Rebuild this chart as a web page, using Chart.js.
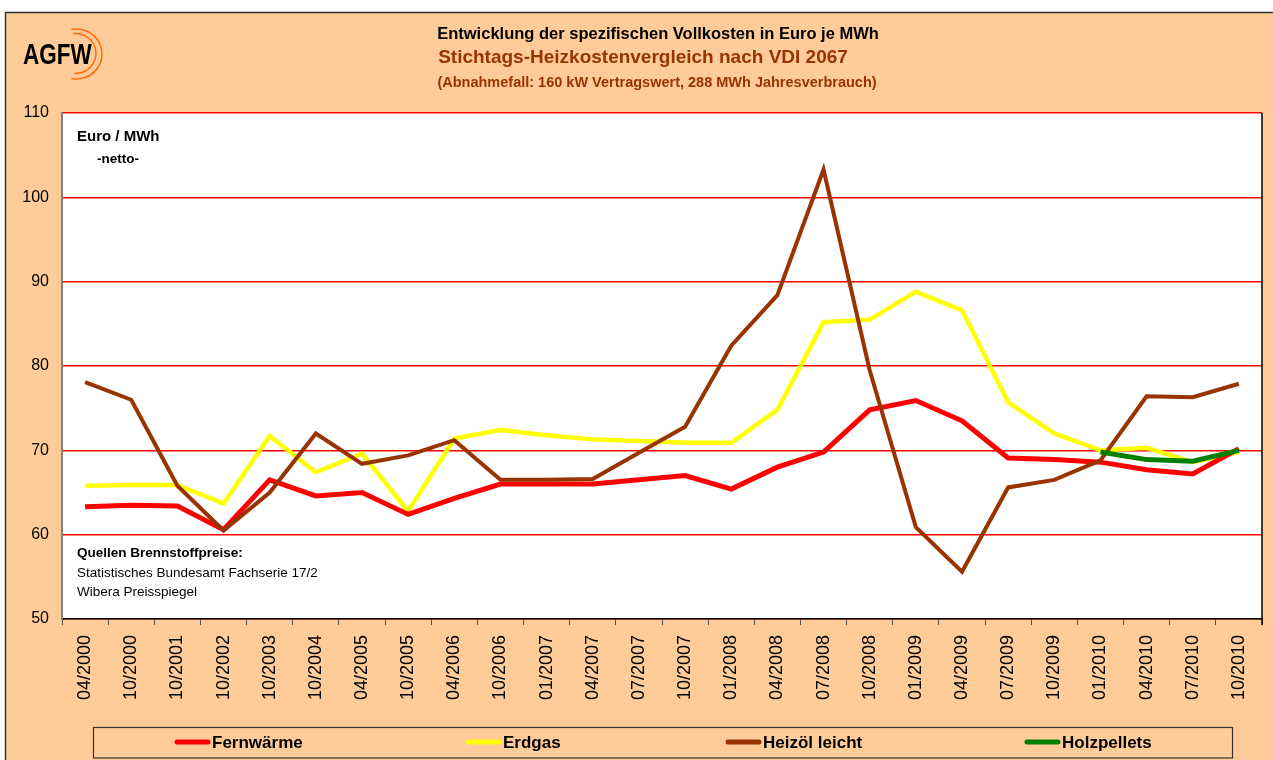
<!DOCTYPE html>
<html>
<head>
<meta charset="utf-8">
<script src="https://cdn.jsdelivr.net/npm/chart.js@4"></script>
<style>
  html, body { margin: 0; padding: 0; background: #fff; }
  #wrap { width: 1273px; height: 760px; }
</style>
</head>
<body>
<div id="wrap"><canvas id="chart" width="1273" height="760"></canvas></div>
<script>
const categories = [
	"04/2000", "10/2000", "10/2001", "10/2002", "10/2003", "10/2004", "04/2005",
	"10/2005", "04/2006", "10/2006", "01/2007", "04/2007", "07/2007", "10/2007",
	"01/2008", "04/2008", "07/2008", "10/2008", "01/2009", "04/2009", "07/2009",
	"10/2009", "01/2010", "04/2010", "07/2010", "10/2010",
]

const fernwaerme = [
	63.3, 63.5, 63.4, 60.6, 66.5, 64.6, 65.0, 62.4, 64.3, 66.0, 66.0, 66.0, 66.5,
	67.0, 65.4, 68.0, 69.8, 74.8, 75.9, 73.5, 69.1, 68.9, 68.6, 67.7, 67.2, 70.2,
]
const erdgas = [
	65.8, 65.9, 65.9, 63.7, 71.7, 67.4, 69.6, 62.8, 71.4, 72.4, 71.8, 71.3, 71.1,
	70.9, 70.9, 74.8, 85.2, 85.5, 88.8, 86.6, 75.7, 72.0, 70.0, 70.3, 68.6, 69.8,
]
const heizoel = [
	78.1, 76.0, 65.8, 60.5, 65.0, 72.0, 68.4, 69.4, 71.2, 66.5, 66.5, 66.6, 69.7,
	72.8, 82.4, 88.4, 103.3, 79.5, 60.9, 55.6, 65.6, 66.5, 68.8, 76.4, 76.3, 77.9,
]
const holzpellets = [
	null, null, null, null, null, null, null, null, null, null, null, null, null,
	null, null, null, null, null, null, null, null, null, 69.8, 68.9, 68.7, 70.0,
]

const seriesLabels = ["Fernwärme", "Erdgas", "Heizöl leicht", "Holzpellets"]
const yTicks = [50, 60, 70, 80, 90, 100, 110]

const FONT = "'Liberation Sans', Arial, sans-serif"
const PEACH = "#FFCC99"

// frame, header, logo, notes and legend
const decor = {
	id: "decor",
	beforeDraw(chart) {
		const { ctx, chartArea: a } = chart
		ctx.save()
		ctx.fillStyle = "#fff"
		ctx.fillRect(0, 0, chart.width, chart.height)
		ctx.fillStyle = PEACH
		ctx.fillRect(5, 12, chart.width, chart.height)
		ctx.strokeStyle = "#333"
		ctx.lineWidth = 1.5
		ctx.beginPath()
		ctx.moveTo(5.5, chart.height + 5)
		ctx.lineTo(5.5, 12.5)
		ctx.lineTo(chart.width + 5, 12.5)
		ctx.stroke()
		ctx.fillStyle = "#fff"
		ctx.fillRect(a.left, a.top, a.right - a.left, a.bottom - a.top)
		ctx.restore()
	},
	afterDraw(chart) {
		const { ctx, chartArea: a } = chart
		ctx.save()
		// right plot border
		ctx.strokeStyle = "#000"
		ctx.lineWidth = 1.5
		ctx.beginPath()
		ctx.moveTo(a.right, a.top)
		ctx.lineTo(a.right, a.bottom + 6)
		ctx.stroke()

		// header
		ctx.textAlign = "center"
		ctx.textBaseline = "middle"
		ctx.fillStyle = "#000"
		ctx.font = "bold 16.5px " + FONT
		ctx.fillText("Entwicklung der spezifischen Vollkosten in Euro je MWh", 658, 34)
		ctx.fillStyle = "#993300"
		ctx.font = "bold 19px " + FONT
		ctx.fillText("Stichtags-Heizkostenvergleich nach VDI 2067", 643, 58)
		ctx.font = "bold 14.5px " + FONT
		ctx.fillText("(Abnahmefall: 160 kW Vertragswert, 288 MWh Jahresverbrauch)", 657, 83)

		// logo
		ctx.save()
		ctx.translate(23, 55)
		ctx.scale(0.75, 1)
		ctx.textAlign = "left"
		ctx.fillStyle = "#000"
		ctx.font = "bold 30px " + FONT
		ctx.fillText("AGFW", 0, 1)
		ctx.restore()
		ctx.strokeStyle = "#FF6600"
		ctx.lineWidth = 1.4
		ctx.beginPath()
		ctx.ellipse(76, 54, 26, 25, 0, -1.75, 1.75)
		ctx.stroke()
		ctx.beginPath()
		ctx.ellipse(75, 53.5, 21, 20, 0, -1.65, 1.6)
		ctx.stroke()

		// notes inside plot
		ctx.textAlign = "left"
		ctx.fillStyle = "#000"
		ctx.font = "bold 15px " + FONT
		ctx.fillText("Euro / MWh", 77, 137)
		ctx.font = "bold 13.5px " + FONT
		ctx.fillText("-netto-", 97, 159)
		ctx.font = "bold 13.5px " + FONT
		ctx.fillText("Quellen Brennstoffpreise:", 77, 553)
		ctx.font = "13.5px " + FONT
		ctx.fillText("Statistisches Bundesamt Fachserie 17/2", 77, 573)
		ctx.fillText("Wibera Preisspiegel", 77, 592)

		// legend box
		ctx.fillStyle = PEACH
		ctx.fillRect(93, 727, 1140, 31)
		ctx.strokeStyle = "#333"
		ctx.lineWidth = 1.2
		ctx.strokeRect(93.5, 727.5, 1139, 30.5)
		const starts = [175, 466, 726, 1025]
		ctx.font = "bold 17px " + FONT
		ctx.lineCap = "round"
		chart.data.datasets.forEach((ds, i) => {
			const x = starts[i]
			ctx.strokeStyle = ds.borderColor
			ctx.lineWidth = 5
			ctx.beginPath()
			ctx.moveTo(x + 2, 742)
			ctx.lineTo(x + 33, 742)
			ctx.stroke()
			ctx.fillStyle = "#000"
			ctx.fillText(ds.label, x + 37, 743)
		})
		ctx.restore()
	},
}

const ds = (label, data, color, width, order) => ({
	label, data, borderColor: color, backgroundColor: color,
	borderWidth: width, pointRadius: 0, tension: 0, order, spanGaps: false,
})

new Chart(document.getElementById("chart"), {
	type: "line",
	data: {
		labels: categories,
		datasets: [
			ds(seriesLabels[0], fernwaerme, "#FF0000", 5, 2),
			ds(seriesLabels[1], erdgas, "#FFFF00", 4.5, 3),
			ds(seriesLabels[2], heizoel, "#993300", 4, 1),
			ds(seriesLabels[3], holzpellets, "#008000", 5, 0),
		],
	},
	options: {
		responsive: false,
		animation: false,
		layout: { padding: { top: 113, right: 11, bottom: 33, left: 0 } },
		plugins: {
			legend: { display: false },
			title: { display: false },
			tooltip: { enabled: false },
		},
		scales: {
			x: {
				offset: true,
				grid: { offset: true, drawOnChartArea: false, color: "#555", tickLength: 6, lineWidth: 1 },
				border: { color: "#000", width: 1.5 },
				ticks: {
					color: "#000", font: { family: FONT, size: 18 },
					minRotation: 90, maxRotation: 90, padding: 10, autoSkip: false,
				},
				afterFit(s) { s.height = 108 },
			},
			y: {
				min: 50, max: 110,
				afterBuildTicks(s) { s.ticks = yTicks.map((v) => ({ value: v })) },
				grid: { color: "#FF0000", lineWidth: 1.5, drawTicks: false },
				border: { color: "#808080", width: 2 },
				ticks: { color: "#000", font: { family: FONT, size: 16 }, padding: 13 },
				afterFit(s) { s.width = 62 },
			},
		},
	},
	plugins: [decor],
})
</script>
</body>
</html>
